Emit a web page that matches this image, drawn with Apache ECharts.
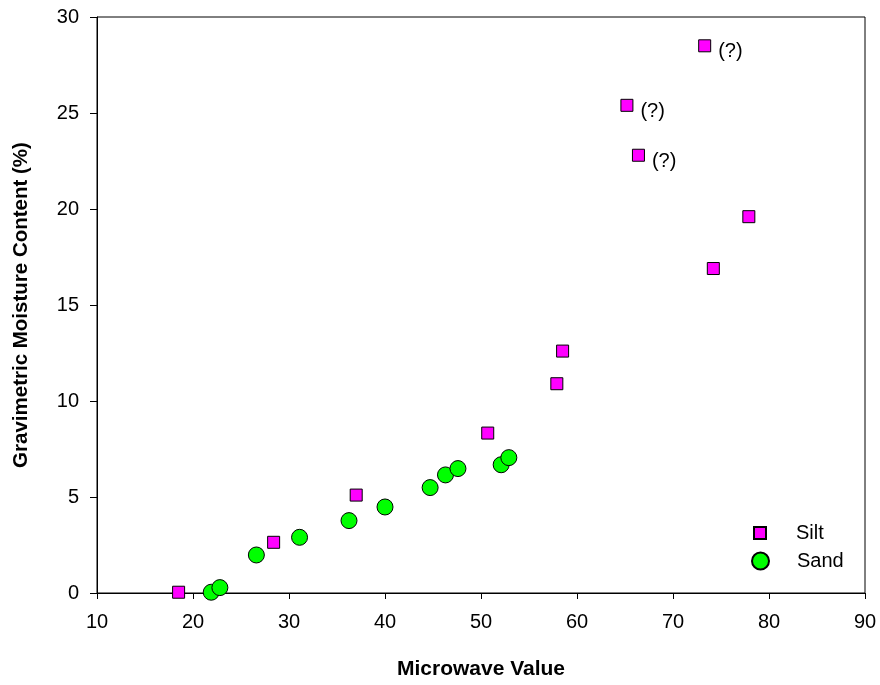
<!DOCTYPE html>
<html>
<head>
<meta charset="utf-8">
<script src="https://cdn.jsdelivr.net/npm/echarts@6/dist/echarts.min.js"></script>
<style>
html,body{margin:0;padding:0;background:#fff;}
#chart{width:880px;height:685px;}
</style>
</head>
<body>
<div id="chart"></div>
<script>
var siltX = [18.5, 28.4, 37.0, 50.7, 57.9, 58.5, 65.2, 66.4, 73.3, 77.9, 74.2];
var siltY = [0.04, 2.64, 5.1, 8.33, 10.9, 12.6, 25.4, 22.8, 28.5, 19.6, 16.9];
var siltNote = ["", "", "", "", "", "", "(?)", "(?)", "(?)", "", ""];
var sandX = [21.9, 22.8, 26.6, 31.1, 36.25, 40.0, 44.7, 46.3, 47.6, 52.1, 52.9];
var sandY = [0.04, 0.28, 1.98, 2.9, 3.77, 4.48, 5.49, 6.15, 6.48, 6.68, 7.05];
var xTicks = [10, 20, 30, 40, 50, 60, 70, 80, 90];
var yTicks = [0, 5, 10, 15, 20, 25, 30];

var FONT = '"Liberation Sans", Arial, sans-serif';

var siltData = siltX.map(function (x, i) {
  var d = { value: [x, siltY[i]] };
  if (siltNote[i]) {
    d.label = { show: true, formatter: siltNote[i], position: 'right', distance: 7, offset: [0, 6],
      color: '#000', fontSize: 20, fontFamily: FONT };
  }
  return d;
});
var sandData = sandX.map(function (x, i) { return [x, sandY[i]]; });

var chart = echarts.init(document.getElementById('chart'), null, { renderer: 'canvas' });
chart.setOption({
  animation: false,
  backgroundColor: '#fff',
  grid: { left: 97, right: 15, top: 17, bottom: 92, show: true, borderColor: '#000', borderWidth: 1, backgroundColor: 'transparent' },
  xAxis: {
    type: 'value', min: xTicks[0], max: xTicks[xTicks.length - 1], interval: 10,
    name: 'Microwave Value', nameLocation: 'middle', nameGap: 66,
    nameTextStyle: { fontFamily: FONT, fontSize: 21, fontWeight: 'bold', color: '#000' },
    axisLine: { show: true, lineStyle: { color: '#000', width: 1 } },
    axisTick: { show: true, inside: false, length: 6, lineStyle: { color: '#000' } },
    axisLabel: { fontFamily: FONT, fontSize: 20, color: '#000', margin: 19 },
    splitLine: { show: false }
  },
  yAxis: {
    type: 'value', min: yTicks[0], max: yTicks[yTicks.length - 1], interval: 5,
    name: 'Gravimetric Moisture Content (%)', nameLocation: 'middle', nameGap: 65,
    nameTextStyle: { fontFamily: FONT, fontSize: 20.5, fontWeight: 'bold', color: '#000' },
    axisLine: { show: true, lineStyle: { color: '#000', width: 1 } },
    axisTick: { show: true, inside: false, length: 7, lineStyle: { color: '#000' } },
    axisLabel: { fontFamily: FONT, fontSize: 20, color: '#000', margin: 18 },
    splitLine: { show: false }
  },
  legend: [
    { data: [{ name: 'Silt', icon: 'rect' }], orient: 'vertical', left: 748, top: 518,
      itemWidth: 12, itemHeight: 12,
      textStyle: { fontFamily: FONT, fontSize: 20, color: '#000', padding: [0, 0, 0, 25] } },
    { data: [{ name: 'Sand', icon: 'circle' }], orient: 'vertical', left: 746, top: 546,
      itemWidth: 17, itemHeight: 17,
      textStyle: { fontFamily: FONT, fontSize: 20, color: '#000', padding: [0, 0, 0, 23] } }
  ],
  series: [
    { name: 'Silt', type: 'scatter', symbol: 'rect', symbolSize: 12, data: siltData,
      itemStyle: { color: '#FF00FF', borderColor: '#000', borderWidth: 1, opacity: 1 } },
    { name: 'Sand', type: 'scatter', symbol: 'circle', symbolSize: 16, data: sandData,
      itemStyle: { color: '#00FF00', borderColor: '#000', borderWidth: 1, opacity: 1 } }
  ]
});
</script>
</body>
</html>
